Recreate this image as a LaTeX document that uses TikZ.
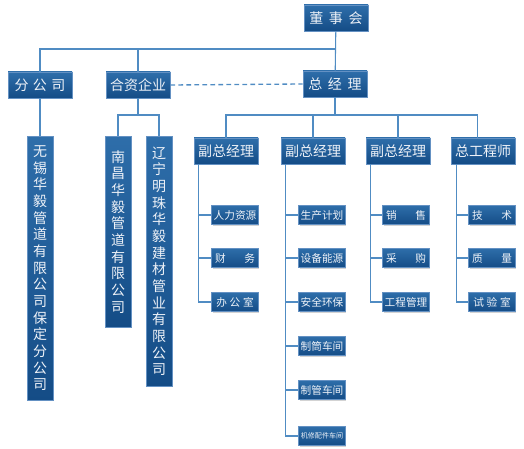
\documentclass[tikz,border=0pt]{standalone}
\usepackage{fontspec}
\setmainfont{Noto Sans CJK SC}
\usetikzlibrary{shadows}
\definecolor{boxtop}{RGB}{46,110,170}
\definecolor{boxbot}{RGB}{20,76,134}
\definecolor{boxedge}{RGB}{100,145,195}
\definecolor{linkblue}{RGB}{80,140,195}
\definecolor{txtwhite}{RGB}{238,242,248}
\newcommand{\sprd}[2]{\makebox[#1][s]{#2}}

\begin{document}
\begin{tikzpicture}[x=0.75pt,y=-0.75pt,
  box/.style={draw=boxedge,top color=boxtop,bottom color=boxbot,line width=0.6pt,
              text=txtwhite,inner sep=0pt,minimum width=48pt,minimum height=19.5pt,
              font=\fontsize{10.5}{12}\selectfont,
              drop shadow={shadow xshift=0.7pt,shadow yshift=-0.7pt,opacity=0.35}},
  small/.style={box,minimum width=35pt,minimum height=14.5pt,font=\fontsize{8}{9}\selectfont},
  vbox/.style={box,anchor=north,minimum width=19.5pt,align=center,
               font=\fontsize{10.5}{12.5}\selectfont},
  conn/.style={draw=linkblue,line width=0.8pt}
]
\useasboundingbox (0,0) rectangle (524,449);

\node[box] (dsh) at (336,18) {\sprd{40pt}{董\hfill 事\hfill 会}};
\node[box] (fgs) at (40,85) {\sprd{38pt}{分\hfill 公\hfill 司}};
\node[box] (hz) at (138,85) {合资企业};
\node[box] (zjl) at (335,84) {\sprd{40pt}{总\hfill 经\hfill 理}};

\node[box] (fz1) at (226,151) {副总经理};
\node[box] (fz2) at (313,151) {副总经理};
\node[box] (fz3) at (398,151) {副总经理};
\node[box] (zgcs) at (483,151) {总工程师};

\node[vbox,minimum height=198pt] (wx) at (40,136)
  {无\\锡\\华\\毅\\管\\道\\有\\限\\公\\司\\保\\定\\分\\公\\司};
\node[vbox,minimum height=143pt] (nc) at (118,136)
  {南\\昌\\华\\毅\\管\\道\\有\\限\\公\\司};
\node[vbox,minimum height=187.5pt] (ln) at (159,136)
  {辽\\宁\\明\\珠\\华\\毅\\建\\材\\管\\业\\有\\限\\公\\司};

\node[small] (c11) at (235,215) {人力资源};
\node[small] (c12) at (235,258) {\sprd{30pt}{财\hfill 务}};
\node[small] (c13) at (235,302) {\sprd{28pt}{办\hfill 公\hfill 室}};

\node[small] (c21) at (322,215) {生产计划};
\node[small] (c22) at (322,258) {设备能源};
\node[small] (c23) at (322,302) {安全环保};
\node[small] (c24) at (322,346) {制筒车间};
\node[small] (c25) at (322,390) {制管车间};
\node[small,font=\fontsize{5.3}{6}\selectfont] (c26) at (322,436) {机修配件车间};

\node[small] (c31) at (406,215) {\sprd{30pt}{销\hfill 售}};
\node[small] (c32) at (406,258) {\sprd{30pt}{采\hfill 购}};
\node[small] (c33) at (406,302) {工程管理};

\node[small] (c41) at (492,215) {\sprd{30pt}{技\hfill 术}};
\node[small] (c42) at (492,258) {\sprd{30pt}{质\hfill 量}};
\node[small] (c43) at (492,302) {\sprd{28pt}{试\hfill 验\hfill 室}};

\coordinate (bus1) at (336,49);
\coordinate (bus2) at (335,115);
\coordinate (bus3) at (138,115);

\draw[conn] (dsh) -- (zjl);
\draw[conn] (fgs.north) |- (bus1);
\draw[conn] (hz.north) |- (bus1);
\draw[conn,line width=1pt,dash pattern=on 3.5pt off 2.5pt] (hz.east) -- (zjl.west);

\draw[conn] (fgs) -- (wx);
\draw[conn] (hz) -- (bus3);
\draw[conn] (nc.north) |- (bus3);
\draw[conn] (ln.north) |- (bus3);

\draw[conn] (zjl) -- (bus2);
\draw[conn] (fz1.north) |- (bus2);
\draw[conn] (fz2.north) |- (bus2);
\draw[conn] (fz3.north) |- (bus2);
\draw[conn] ([xshift=-4pt]zgcs.north) |- (bus2);

\draw[conn] ([xshift=3.75pt]fz1.south west) |- (c11.west);
\draw[conn] ([xshift=3.75pt]fz1.south west) |- (c12.west);
\draw[conn] ([xshift=3.75pt]fz1.south west) |- (c13.west);

\draw[conn] ([xshift=3.75pt]fz2.south west) |- (c21.west);
\draw[conn] ([xshift=3.75pt]fz2.south west) |- (c22.west);
\draw[conn] ([xshift=3.75pt]fz2.south west) |- (c23.west);
\draw[conn] ([xshift=3.75pt]fz2.south west) |- (c24.west);
\draw[conn] ([xshift=3.75pt]fz2.south west) |- (c25.west);
\draw[conn] ([xshift=3.75pt]fz2.south west) |- (c26.west);

\draw[conn] ([xshift=3.75pt]fz3.south west) |- (c31.west);
\draw[conn] ([xshift=3.75pt]fz3.south west) |- (c32.west);
\draw[conn] ([xshift=3.75pt]fz3.south west) |- (c33.west);

\draw[conn] ([xshift=4.5pt]zgcs.south west) |- (c41.west);
\draw[conn] ([xshift=4.5pt]zgcs.south west) |- (c42.west);
\draw[conn] ([xshift=4.5pt]zgcs.south west) |- (c43.west);
\end{tikzpicture}
\end{document}
